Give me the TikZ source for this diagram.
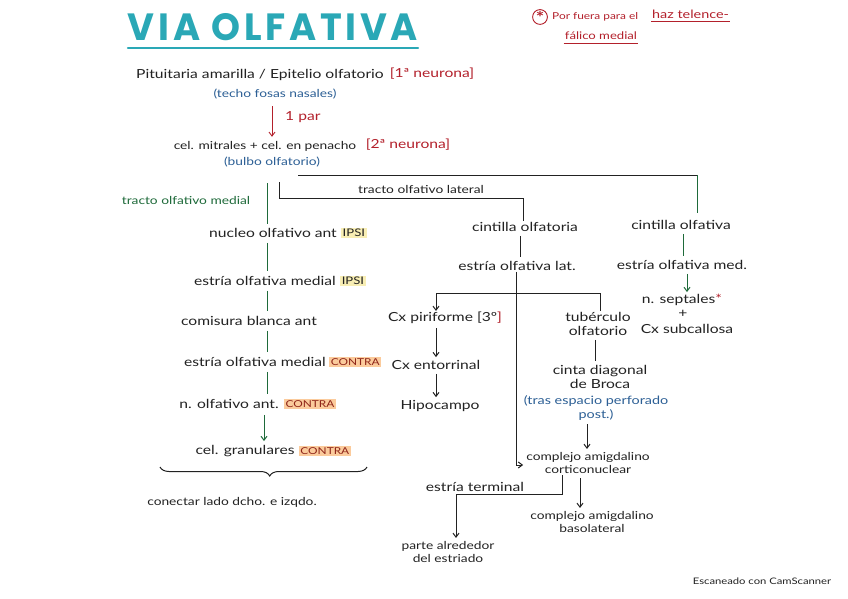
\documentclass[tikz,border=0pt]{standalone}
\usepackage{fontspec}
\setmainfont{Lato}[FakeStretch=1.25]
\newfontfamily\titlefont{Poppins}[LetterSpace=10]
\usetikzlibrary{arrows.meta,decorations.pathreplacing}
\definecolor{ink}{HTML}{222222}
\definecolor{tred}{HTML}{B3202B}
\definecolor{tblue}{HTML}{2C5F95}
\definecolor{tgreen}{HTML}{1E6A3A}
\definecolor{ttl}{HTML}{2AA8B6}
\definecolor{hlY}{HTML}{F8EEB4}
\definecolor{hlO}{HTML}{FBCB9C}
\definecolor{cred}{HTML}{8E2418}
\begin{document}
\begin{tikzpicture}[x=1pt,y=-1pt,
  txt/.style={font=\fontsize{12.5}{14}\selectfont, text=ink, inner sep=1pt, align=center},
  small/.style={font=\fontsize{11}{13.5}\selectfont},
  redtxt/.style={txt, text=tred},
  bluetxt/.style={txt, text=tblue},
  greentxt/.style={txt, text=tgreen},
  note/.style={font=\fontsize{10.5}{12.5}\selectfont, text=tred, inner sep=1pt},
  ipsi/.style={txt, fill=hlY, inner sep=1.5pt, font=\fontsize{10.5}{12}\selectfont},
  contra/.style={txt, fill=hlO, text=cred, inner sep=1.5pt, font=\fontsize{9.5}{11}\selectfont},
  kline/.style={draw=ink, line width=1pt},
  gline/.style={draw=tgreen, line width=1pt},
  rline/.style={draw=tred, line width=0.9pt},
  karrow/.style={kline, -{Straight Barb[length=4pt,width=6pt]}},
  garrow/.style={gline, -{Straight Barb[length=4pt,width=6pt]}},
  rarrow/.style={rline, -{Straight Barb[length=4pt,width=6pt]}}
]
\useasboundingbox (0,0) rectangle (848,599);
\fill[white] (0,0) rectangle (848,599);

% title
\node[inner sep=0pt, text=ttl] (title) at (273,27) {\resizebox{290pt}{27pt}{\titlefont\bfseries VIA OLFATIVA}};
\draw[ttl, line width=2pt, line cap=round] ([yshift=-7pt]title.south west) -- ([yshift=-7pt]title.south east);

% red note
\node[circle, draw=tred, line width=0.9pt, inner sep=0pt, minimum size=13pt, text=tred, font=\fontsize{16}{16}\selectfont\bfseries] (ast) at (540,17) {\raisebox{-5pt}{*}};
\node[note, anchor=west, font=\fontsize{9.5}{12}\selectfont] (nt1) at (551,17) {Por fuera para el};
\node[note, anchor=west, font=\fontsize{11.5}{13}\selectfont] (nt2) at (651,14) {haz telence-};
\node[note] (nt3) at (601,36) {fálico medial};
\draw[rline] ([yshift=-2pt]nt2.south west) -- ([yshift=-2pt]nt2.south east);
\draw[rline] ([yshift=-2pt]nt3.south west) -- ([yshift=-2pt]nt3.south east);

% top
\node[txt] (pit) at (260,75) {Pituitaria amarilla / Epitelio olfatorio};
\node[redtxt] (n1) at (432,74) {[1ª neurona]};
\node[bluetxt, small] (tfn) at (275,94) {(techo fosas nasales)};
\node[txt, small] (mit) at (265,146) {cel. mitrales + cel. en penacho};
\node[redtxt] (n2) at (408,145) {[2ª neurona]};
\node[bluetxt, small] (bul) at (272,162) {(bulbo olfatorio)};
\coordinate (cpar) at (272,0);
\draw[rarrow] (tfn.south -| cpar) ++(0,6) -- ([yshift=3pt]mit.north -| cpar);
\node[redtxt, anchor=west] (par1) at (284,117) {1 par};

% branches from bulb
\coordinate (bA) at (298,175);
\coordinate (bB) at (697,175);
\node[txt] (cio2) at (681,225) {cintilla olfativa};
\draw[kline] (bA) -- (bB);
\draw[gline] (bB) -- ([yshift=6pt]cio2.north -| bB);

\coordinate (tl1) at (279,182);
\coordinate (tl2) at (279,198);
\coordinate (tl3) at (523,198);
\node[txt] (cil) at (525,227) {cintilla olfatoria};
\draw[kline] (tl1) -- (tl2) -- (tl3) -- (cil.north -| tl3);
\node[txt, font=\fontsize{11}{13}\selectfont] (tol) at (421,189) {tracto olfativo lateral};

\node[greentxt, font=\fontsize{11}{13}\selectfont] (tom) at (186,200) {tracto olfativo medial};

% left column
\coordinate (cL) at (267,0);
\coordinate (tm1) at (267,183);
\node[txt] (noa) at (273,233) {nucleo olfativo ant};
\node[ipsi, anchor=west] (noaI) at ([xshift=3pt]noa.east) {IPSI};
\draw[gline] (tm1) -- ([yshift=3pt]noa.north -| cL);

\node[txt] (eom1) at (265,281) {estría olfativa medial};
\node[ipsi, anchor=west] (eom1I) at ([xshift=3pt]eom1.east) {IPSI};
\draw[gline] ([yshift=-4pt]noa.south -| cL) -- ([yshift=4pt]eom1.north -| cL);

\node[txt] (cba) at (249,321) {comisura blanca ant};
\draw[gline] ([yshift=-4pt]eom1.south -| cL) -- ([yshift=4pt]cba.north -| cL);

\node[txt] (eom2) at (255,362) {estría olfativa medial};
\node[contra, anchor=west] (eom2C) at ([xshift=2pt]eom2.east) {CONTRA};
\draw[gline] ([yshift=-4pt]cba.south -| cL) -- ([yshift=4pt]eom2.north -| cL);

\node[txt] (noa2) at (229,404) {n. olfativo ant.};
\node[contra, anchor=west] (noa2C) at ([xshift=4pt]noa2.east) {CONTRA};
\draw[gline] ([yshift=-4pt]eom2.south -| cL) -- ([yshift=4pt]noa2.north -| cL);

\coordinate (cL2) at (264,0);
\node[txt] (cgr) at (245,451) {cel. granulares};
\node[contra, anchor=west] (cgrC) at ([xshift=3pt]cgr.east) {CONTRA};
\draw[garrow] ([yshift=-5pt]noa2.south -| cL2) -- ([yshift=3pt]cgr.north -| cL2);

\coordinate (brL) at (160,467);
\coordinate (brR) at (367,467);
\draw[kline, decorate, decoration={brace, amplitude=9pt, aspect=0.47}] (brR) -- (brL);
\node[txt, small] (con) at (232,502) {conectar lado dcho. e izqdo.};

% middle column
\coordinate (cM1) at (520,0);
\node[txt] (eol) at (517,266) {estría olfativa lat.};
\draw[kline] ([yshift=-3pt]cil.south -| cM1) -- ([yshift=3pt]eol.north -| cM1);

\coordinate (jm) at (516,293);
\coordinate (jL) at (436,293);
\coordinate (jR) at (600,293);
\coordinate (jB) at (516,465);
\node[txt] (cxp) at (445,318) {Cx piriforme [3º\textcolor{tred}{]}};
\node[txt] (tub) at (598,324) {tubérculo\\olfatorio};
\draw[kline] (eol.south -| jm) -- (jm);
\draw[karrow] (jL) -- (cxp.north -| jL);
\draw[kline] (jL) -- (jR) -- (tub.north -| jR);

\node[txt] (cxe) at (436,365) {Cx entorrinal};
\draw[karrow] ([yshift=-3pt]cxp.south -| jL) -- ([yshift=2pt]cxe.north -| jL);
\node[txt] (hip) at (440,406) {Hipocampo};
\draw[karrow] ([yshift=-3pt]cxe.south -| jL) -- ([yshift=2pt]hip.north -| jL);

\coordinate (cM2) at (595,0);
\node[txt] (cdb) at (600,377) {cinta diagonal\\de Broca};
\draw[kline] ([yshift=-3pt]tub.south -| cM2) -- ([yshift=3pt]cdb.north -| cM2);
\node[bluetxt, font=\fontsize{11.5}{13.5}\selectfont] (tep) at (596,408) {(tras espacio perforado\\post.)};

\coordinate (cM3) at (587,0);
\node[txt, small] (cac) at (588,463) {complejo amigdalino\\corticonuclear};
\draw[karrow] ([yshift=-3pt]tep.south -| cM3) -- ([yshift=2pt]cac.north -| cM3);
\draw[karrow] (jm) -- (jB) -- ([xshift=-2pt]cac.west |- jB);

\node[txt] (etl) at (475,487) {estría terminal};
\coordinate (et1) at (562,0);
\coordinate (et2) at (562,494);
\coordinate (et3) at (456,494);
\node[txt, small] (par) at (448,552) {parte alrededor\\del estriado};
\draw[karrow] (cac.south -| et1) -- (et2) -- (et3) -- ([yshift=2pt]par.north -| et3);

\coordinate (cM4) at (580,0);
\node[txt, small] (cab) at (592,522) {complejo amigdalino\\basolateral};
\draw[karrow] ([yshift=-3pt]cac.south -| cM4) -- ([yshift=2pt]cab.north -| cM4);

% right column
\coordinate (cR1) at (683,0);
\node[txt] (eom3) at (682,265) {estría olfativa med.};
\draw[gline] ([yshift=-3pt]cio2.south -| cR1) -- ([yshift=3pt]eom3.north -| cR1);
\coordinate (cR2) at (687,0);
\node[txt] (nse) at (682,300) {n. septales\textcolor{tred}{*}};
\draw[garrow] ([yshift=-3pt]eom3.south -| cR2) -- ([yshift=1pt]nse.north -| cR2);
\node[txt] (plus) at (683,314) {+};
\node[txt] (cxs) at (687,329) {Cx subcallosa};

% footer
\node[txt, font=\fontsize{9}{11}\selectfont] (scan) at (762,581) {Escaneado con CamScanner};
\end{tikzpicture}
\end{document}
